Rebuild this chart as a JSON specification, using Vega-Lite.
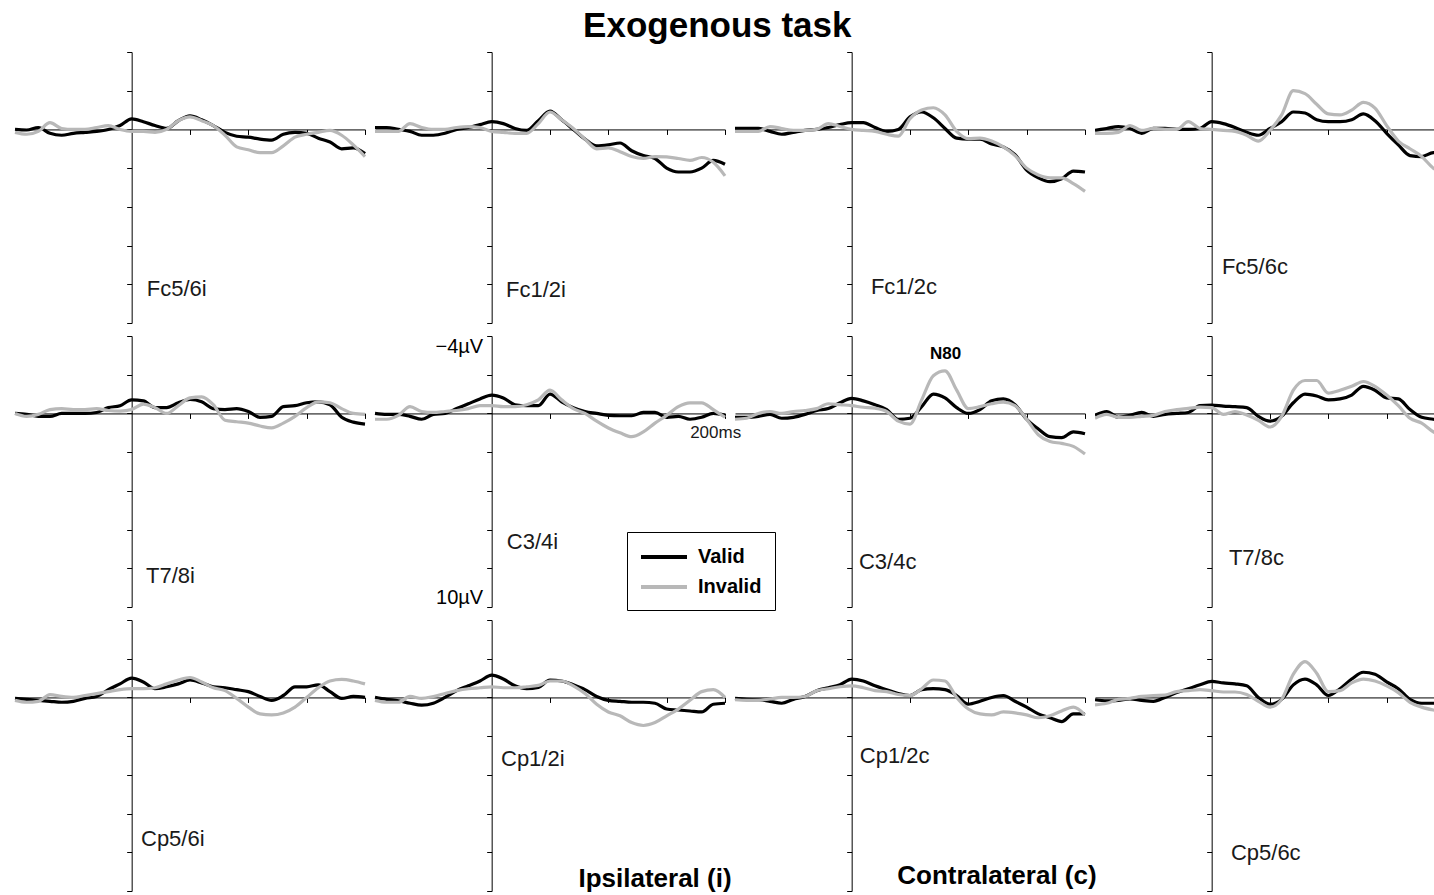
{
"$schema":"https://vega.github.io/schema/vega-lite/v6.json",
"padding":{"left":8,"right":0,"top":8,"bottom":0},
"bounds":"flush",
"spacing":{"row":13,"column":10},
"columns":4,
"title":{"text":"Exogenous task","fontSize":35,"fontWeight":"bold","font":"Liberation Sans","anchor":"middle","dx":-4,"offset":8,"color":"#000"},
"data":{"values":[
{"p":"Fc5/6i","t":-200,"Valid":0,"Invalid":0.15},{"p":"Fc5/6i","t":-180,"Valid":0.03,"Invalid":0.25},{"p":"Fc5/6i","t":-160,"Valid":-0.1,"Invalid":0.1},{"p":"Fc5/6i","t":-140,"Valid":0.2,"Invalid":-0.35},{"p":"Fc5/6i","t":-120,"Valid":0.3,"Invalid":-0.05},{"p":"Fc5/6i","t":-100,"Valid":0.2,"Invalid":0},{"p":"Fc5/6i","t":-80,"Valid":0.15,"Invalid":0},{"p":"Fc5/6i","t":-60,"Valid":0.1,"Invalid":-0.1},{"p":"Fc5/6i","t":-40,"Valid":0,"Invalid":-0.2},{"p":"Fc5/6i","t":-20,"Valid":-0.2,"Invalid":0},{"p":"Fc5/6i","t":0,"Valid":-0.55,"Invalid":0.1},{"p":"Fc5/6i","t":20,"Valid":-0.4,"Invalid":0.1},{"p":"Fc5/6i","t":40,"Valid":-0.2,"Invalid":0.15},{"p":"Fc5/6i","t":60,"Valid":-0.05,"Invalid":0},{"p":"Fc5/6i","t":80,"Valid":-0.45,"Invalid":-0.45},{"p":"Fc5/6i","t":100,"Valid":-0.7,"Invalid":-0.65},{"p":"Fc5/6i","t":120,"Valid":-0.5,"Invalid":-0.45},{"p":"Fc5/6i","t":140,"Valid":-0.2,"Invalid":-0.2},{"p":"Fc5/6i","t":160,"Valid":0.15,"Invalid":0.3},{"p":"Fc5/6i","t":180,"Valid":0.35,"Invalid":0.9},{"p":"Fc5/6i","t":200,"Valid":0.4,"Invalid":1.05},{"p":"Fc5/6i","t":220,"Valid":0.5,"Invalid":1.2},{"p":"Fc5/6i","t":240,"Valid":0.55,"Invalid":1.2},{"p":"Fc5/6i","t":260,"Valid":0.25,"Invalid":0.85},{"p":"Fc5/6i","t":280,"Valid":0.15,"Invalid":0.4},{"p":"Fc5/6i","t":300,"Valid":0.2,"Invalid":0.25},{"p":"Fc5/6i","t":320,"Valid":0.45,"Invalid":0.15},{"p":"Fc5/6i","t":340,"Valid":0.65,"Invalid":0.05},{"p":"Fc5/6i","t":360,"Valid":1.0,"Invalid":0.3},{"p":"Fc5/6i","t":380,"Valid":0.95,"Invalid":0.8},{"p":"Fc5/6i","t":400,"Valid":1.25,"Invalid":1.4},
{"p":"Fc1/2i","t":-200,"Valid":-0.1,"Invalid":0.1},{"p":"Fc1/2i","t":-180,"Valid":-0.1,"Invalid":0.1},{"p":"Fc1/2i","t":-160,"Valid":0,"Invalid":0.1},{"p":"Fc1/2i","t":-140,"Valid":0.1,"Invalid":-0.3},{"p":"Fc1/2i","t":-120,"Valid":0.3,"Invalid":-0.1},{"p":"Fc1/2i","t":-100,"Valid":0.3,"Invalid":0},{"p":"Fc1/2i","t":-80,"Valid":0.2,"Invalid":0},{"p":"Fc1/2i","t":-60,"Valid":0,"Invalid":-0.1},{"p":"Fc1/2i","t":-40,"Valid":-0.1,"Invalid":-0.15},{"p":"Fc1/2i","t":-20,"Valid":-0.25,"Invalid":-0.1},{"p":"Fc1/2i","t":0,"Valid":-0.4,"Invalid":0.1},{"p":"Fc1/2i","t":20,"Valid":-0.3,"Invalid":0.15},{"p":"Fc1/2i","t":40,"Valid":-0.05,"Invalid":0.2},{"p":"Fc1/2i","t":60,"Valid":0.05,"Invalid":0.2},{"p":"Fc1/2i","t":80,"Valid":-0.45,"Invalid":-0.3},{"p":"Fc1/2i","t":100,"Valid":-0.95,"Invalid":-0.9},{"p":"Fc1/2i","t":120,"Valid":-0.5,"Invalid":-0.5},{"p":"Fc1/2i","t":140,"Valid":0,"Invalid":-0.05},{"p":"Fc1/2i","t":160,"Valid":0.5,"Invalid":0.5},{"p":"Fc1/2i","t":180,"Valid":0.85,"Invalid":1.0},{"p":"Fc1/2i","t":200,"Valid":0.8,"Invalid":0.95},{"p":"Fc1/2i","t":220,"Valid":0.7,"Invalid":1.15},{"p":"Fc1/2i","t":240,"Valid":1.1,"Invalid":1.4},{"p":"Fc1/2i","t":260,"Valid":1.35,"Invalid":1.5},{"p":"Fc1/2i","t":280,"Valid":1.5,"Invalid":1.4},{"p":"Fc1/2i","t":300,"Valid":2.0,"Invalid":1.42},{"p":"Fc1/2i","t":320,"Valid":2.2,"Invalid":1.5},{"p":"Fc1/2i","t":340,"Valid":2.2,"Invalid":1.6},{"p":"Fc1/2i","t":360,"Valid":2.0,"Invalid":1.45},{"p":"Fc1/2i","t":380,"Valid":1.6,"Invalid":1.7},{"p":"Fc1/2i","t":400,"Valid":1.8,"Invalid":2.4},
{"p":"Fc1/2c","t":-200,"Valid":-0.05,"Invalid":0.1},{"p":"Fc1/2c","t":-180,"Valid":-0.05,"Invalid":0.1},{"p":"Fc1/2c","t":-160,"Valid":-0.05,"Invalid":0.1},{"p":"Fc1/2c","t":-140,"Valid":0.1,"Invalid":-0.15},{"p":"Fc1/2c","t":-120,"Valid":0.25,"Invalid":-0.05},{"p":"Fc1/2c","t":-100,"Valid":0.15,"Invalid":0.05},{"p":"Fc1/2c","t":-80,"Valid":0.05,"Invalid":0.05},{"p":"Fc1/2c","t":-60,"Valid":0,"Invalid":0},{"p":"Fc1/2c","t":-40,"Valid":-0.1,"Invalid":-0.3},{"p":"Fc1/2c","t":-20,"Valid":-0.25,"Invalid":-0.15},{"p":"Fc1/2c","t":0,"Valid":-0.35,"Invalid":0},{"p":"Fc1/2c","t":20,"Valid":-0.35,"Invalid":0.05},{"p":"Fc1/2c","t":40,"Valid":-0.1,"Invalid":0.1},{"p":"Fc1/2c","t":60,"Valid":0.1,"Invalid":0.25},{"p":"Fc1/2c","t":80,"Valid":0,"Invalid":0.35},{"p":"Fc1/2c","t":100,"Valid":-0.65,"Invalid":-0.55},{"p":"Fc1/2c","t":120,"Valid":-0.9,"Invalid":-1.0},{"p":"Fc1/2c","t":140,"Valid":-0.6,"Invalid":-1.12},{"p":"Fc1/2c","t":160,"Valid":-0.05,"Invalid":-0.75},{"p":"Fc1/2c","t":180,"Valid":0.45,"Invalid":0.1},{"p":"Fc1/2c","t":200,"Valid":0.5,"Invalid":0.48},{"p":"Fc1/2c","t":220,"Valid":0.5,"Invalid":0.45},{"p":"Fc1/2c","t":240,"Valid":0.75,"Invalid":0.6},{"p":"Fc1/2c","t":260,"Valid":0.9,"Invalid":0.9},{"p":"Fc1/2c","t":280,"Valid":1.3,"Invalid":1.35},{"p":"Fc1/2c","t":300,"Valid":2.1,"Invalid":2.0},{"p":"Fc1/2c","t":320,"Valid":2.5,"Invalid":2.35},{"p":"Fc1/2c","t":340,"Valid":2.7,"Invalid":2.5},{"p":"Fc1/2c","t":360,"Valid":2.55,"Invalid":2.5},{"p":"Fc1/2c","t":380,"Valid":2.15,"Invalid":2.8},{"p":"Fc1/2c","t":400,"Valid":2.2,"Invalid":3.2},
{"p":"Fc5/6c","t":-200,"Valid":0.05,"Invalid":0.2},{"p":"Fc5/6c","t":-180,"Valid":-0.05,"Invalid":0.2},{"p":"Fc5/6c","t":-160,"Valid":-0.15,"Invalid":0.15},{"p":"Fc5/6c","t":-140,"Valid":-0.05,"Invalid":-0.2},{"p":"Fc5/6c","t":-120,"Valid":0.2,"Invalid":0.05},{"p":"Fc5/6c","t":-100,"Valid":-0.05,"Invalid":-0.05},{"p":"Fc5/6c","t":-80,"Valid":-0.05,"Invalid":0},{"p":"Fc5/6c","t":-60,"Valid":0,"Invalid":0},{"p":"Fc5/6c","t":-40,"Valid":0,"Invalid":-0.4},{"p":"Fc5/6c","t":-20,"Valid":-0.05,"Invalid":-0.05},{"p":"Fc5/6c","t":0,"Valid":-0.4,"Invalid":0},{"p":"Fc5/6c","t":20,"Valid":-0.3,"Invalid":0.05},{"p":"Fc5/6c","t":40,"Valid":-0.1,"Invalid":0.1},{"p":"Fc5/6c","t":60,"Valid":0.15,"Invalid":0.3},{"p":"Fc5/6c","t":80,"Valid":0.3,"Invalid":0.6},{"p":"Fc5/6c","t":100,"Valid":-0.05,"Invalid":0.05},{"p":"Fc5/6c","t":120,"Valid":-0.4,"Invalid":-0.75},{"p":"Fc5/6c","t":140,"Valid":-0.9,"Invalid":-2.0},{"p":"Fc5/6c","t":160,"Valid":-0.85,"Invalid":-1.85},{"p":"Fc5/6c","t":180,"Valid":-0.5,"Invalid":-1.3},{"p":"Fc5/6c","t":200,"Valid":-0.4,"Invalid":-0.8},{"p":"Fc5/6c","t":220,"Valid":-0.4,"Invalid":-0.75},{"p":"Fc5/6c","t":240,"Valid":-0.5,"Invalid":-1.0},{"p":"Fc5/6c","t":260,"Valid":-0.8,"Invalid":-1.4},{"p":"Fc5/6c","t":280,"Valid":-0.45,"Invalid":-1.1},{"p":"Fc5/6c","t":300,"Valid":0.2,"Invalid":-0.2},{"p":"Fc5/6c","t":320,"Valid":0.8,"Invalid":0.6},{"p":"Fc5/6c","t":340,"Valid":1.35,"Invalid":1.0},{"p":"Fc5/6c","t":360,"Valid":1.4,"Invalid":1.4},{"p":"Fc5/6c","t":380,"Valid":1.2,"Invalid":2.0},{"p":"Fc5/6c","t":400,"Valid":1.3,"Invalid":2.3},
{"p":"T7/8i","t":-200,"Valid":0,"Invalid":0},{"p":"T7/8i","t":-180,"Valid":0.05,"Invalid":0.15},{"p":"T7/8i","t":-160,"Valid":0.15,"Invalid":0.05},{"p":"T7/8i","t":-140,"Valid":0.15,"Invalid":-0.2},{"p":"T7/8i","t":-120,"Valid":0,"Invalid":-0.25},{"p":"T7/8i","t":-100,"Valid":0,"Invalid":-0.2},{"p":"T7/8i","t":-80,"Valid":0,"Invalid":-0.2},{"p":"T7/8i","t":-60,"Valid":-0.05,"Invalid":-0.25},{"p":"T7/8i","t":-40,"Valid":-0.3,"Invalid":-0.15},{"p":"T7/8i","t":-20,"Valid":-0.4,"Invalid":-0.12},{"p":"T7/8i","t":0,"Valid":-0.7,"Invalid":-0.2},{"p":"T7/8i","t":20,"Valid":-0.65,"Invalid":-0.48},{"p":"T7/8i","t":40,"Valid":-0.3,"Invalid":-0.3},{"p":"T7/8i","t":60,"Valid":-0.3,"Invalid":0},{"p":"T7/8i","t":80,"Valid":-0.55,"Invalid":-0.4},{"p":"T7/8i","t":100,"Valid":-0.72,"Invalid":-0.8},{"p":"T7/8i","t":120,"Valid":-0.6,"Invalid":-0.86},{"p":"T7/8i","t":140,"Valid":-0.25,"Invalid":-0.45},{"p":"T7/8i","t":160,"Valid":-0.2,"Invalid":0.35},{"p":"T7/8i","t":180,"Valid":-0.25,"Invalid":0.43},{"p":"T7/8i","t":200,"Valid":-0.1,"Invalid":0.5},{"p":"T7/8i","t":220,"Valid":0.2,"Invalid":0.65},{"p":"T7/8i","t":240,"Valid":0.15,"Invalid":0.75},{"p":"T7/8i","t":260,"Valid":-0.35,"Invalid":0.5},{"p":"T7/8i","t":280,"Valid":-0.4,"Invalid":0.15},{"p":"T7/8i","t":300,"Valid":-0.55,"Invalid":-0.3},{"p":"T7/8i","t":320,"Valid":-0.6,"Invalid":-0.6},{"p":"T7/8i","t":340,"Valid":-0.45,"Invalid":-0.55},{"p":"T7/8i","t":360,"Valid":0.2,"Invalid":-0.25},{"p":"T7/8i","t":380,"Valid":0.45,"Invalid":0},{"p":"T7/8i","t":400,"Valid":0.55,"Invalid":0.05},
{"p":"C3/4i","t":-200,"Valid":0,"Invalid":0.3},{"p":"C3/4i","t":-180,"Valid":0.05,"Invalid":0.3},{"p":"C3/4i","t":-160,"Valid":0.05,"Invalid":0.1},{"p":"C3/4i","t":-140,"Valid":0.15,"Invalid":-0.35},{"p":"C3/4i","t":-120,"Valid":0.3,"Invalid":-0.1},{"p":"C3/4i","t":-100,"Valid":0.05,"Invalid":-0.05},{"p":"C3/4i","t":-80,"Valid":0,"Invalid":-0.1},{"p":"C3/4i","t":-60,"Valid":-0.25,"Invalid":-0.15},{"p":"C3/4i","t":-40,"Valid":-0.5,"Invalid":-0.25},{"p":"C3/4i","t":-20,"Valid":-0.75,"Invalid":-0.4},{"p":"C3/4i","t":0,"Valid":-0.95,"Invalid":-0.4},{"p":"C3/4i","t":20,"Valid":-0.8,"Invalid":-0.35},{"p":"C3/4i","t":40,"Valid":-0.45,"Invalid":-0.35},{"p":"C3/4i","t":60,"Valid":-0.4,"Invalid":-0.45},{"p":"C3/4i","t":80,"Valid":-0.4,"Invalid":-0.7},{"p":"C3/4i","t":100,"Valid":-1.0,"Invalid":-1.2},{"p":"C3/4i","t":120,"Valid":-0.6,"Invalid":-0.7},{"p":"C3/4i","t":140,"Valid":-0.3,"Invalid":-0.25},{"p":"C3/4i","t":160,"Valid":-0.1,"Invalid":0},{"p":"C3/4i","t":180,"Valid":0,"Invalid":0.4},{"p":"C3/4i","t":200,"Valid":0.1,"Invalid":0.75},{"p":"C3/4i","t":220,"Valid":0.12,"Invalid":1.0},{"p":"C3/4i","t":240,"Valid":0.12,"Invalid":1.2},{"p":"C3/4i","t":260,"Valid":-0.05,"Invalid":0.95},{"p":"C3/4i","t":280,"Valid":-0.05,"Invalid":0.5},{"p":"C3/4i","t":300,"Valid":0.2,"Invalid":0.1},{"p":"C3/4i","t":320,"Valid":0.15,"Invalid":-0.35},{"p":"C3/4i","t":340,"Valid":0.3,"Invalid":-0.55},{"p":"C3/4i","t":360,"Valid":0.2,"Invalid":-0.55},{"p":"C3/4i","t":380,"Valid":0,"Invalid":-0.2},{"p":"C3/4i","t":400,"Valid":0.1,"Invalid":0.2},
{"p":"C3/4c","t":-200,"Valid":0.2,"Invalid":0.3},{"p":"C3/4c","t":-180,"Valid":0.2,"Invalid":0.25},{"p":"C3/4c","t":-160,"Valid":0.15,"Invalid":0},{"p":"C3/4c","t":-140,"Valid":0.05,"Invalid":-0.1},{"p":"C3/4c","t":-120,"Valid":0.25,"Invalid":0},{"p":"C3/4c","t":-100,"Valid":0.2,"Invalid":-0.1},{"p":"C3/4c","t":-80,"Valid":0.05,"Invalid":-0.15},{"p":"C3/4c","t":-60,"Valid":-0.15,"Invalid":-0.25},{"p":"C3/4c","t":-40,"Valid":-0.25,"Invalid":-0.5},{"p":"C3/4c","t":-20,"Valid":-0.55,"Invalid":-0.45},{"p":"C3/4c","t":0,"Valid":-0.78,"Invalid":-0.4},{"p":"C3/4c","t":20,"Valid":-0.65,"Invalid":-0.32},{"p":"C3/4c","t":40,"Valid":-0.45,"Invalid":-0.27},{"p":"C3/4c","t":60,"Valid":-0.2,"Invalid":-0.1},{"p":"C3/4c","t":80,"Valid":0.3,"Invalid":0.4},{"p":"C3/4c","t":100,"Valid":0.25,"Invalid":0.55},{"p":"C3/4c","t":120,"Valid":-0.35,"Invalid":-0.7},{"p":"C3/4c","t":140,"Valid":-1.0,"Invalid":-1.95},{"p":"C3/4c","t":160,"Valid":-0.8,"Invalid":-2.2},{"p":"C3/4c","t":180,"Valid":-0.3,"Invalid":-1.2},{"p":"C3/4c","t":200,"Valid":0,"Invalid":-0.25},{"p":"C3/4c","t":220,"Valid":-0.2,"Invalid":-0.35},{"p":"C3/4c","t":240,"Valid":-0.65,"Invalid":-0.5},{"p":"C3/4c","t":260,"Valid":-0.75,"Invalid":-0.58},{"p":"C3/4c","t":280,"Valid":-0.45,"Invalid":-0.4},{"p":"C3/4c","t":300,"Valid":0.3,"Invalid":0.3},{"p":"C3/4c","t":320,"Valid":0.8,"Invalid":1.1},{"p":"C3/4c","t":340,"Valid":1.2,"Invalid":1.45},{"p":"C3/4c","t":360,"Valid":1.25,"Invalid":1.55},{"p":"C3/4c","t":380,"Valid":0.95,"Invalid":1.7},{"p":"C3/4c","t":400,"Valid":1.05,"Invalid":2.1},
{"p":"T7/8c","t":-200,"Valid":0.1,"Invalid":0.25},{"p":"T7/8c","t":-180,"Valid":-0.1,"Invalid":0.05},{"p":"T7/8c","t":-160,"Valid":0.2,"Invalid":0.2},{"p":"T7/8c","t":-140,"Valid":0.1,"Invalid":0.2},{"p":"T7/8c","t":-120,"Valid":-0.05,"Invalid":0.15},{"p":"T7/8c","t":-100,"Valid":0.15,"Invalid":0.1},{"p":"T7/8c","t":-80,"Valid":0.05,"Invalid":-0.1},{"p":"T7/8c","t":-60,"Valid":0,"Invalid":-0.2},{"p":"T7/8c","t":-40,"Valid":-0.05,"Invalid":-0.26},{"p":"T7/8c","t":-20,"Valid":-0.4,"Invalid":-0.33},{"p":"T7/8c","t":0,"Valid":-0.43,"Invalid":-0.3},{"p":"T7/8c","t":20,"Valid":-0.38,"Invalid":0.05},{"p":"T7/8c","t":40,"Valid":-0.35,"Invalid":-0.1},{"p":"T7/8c","t":60,"Valid":-0.3,"Invalid":0.08},{"p":"T7/8c","t":80,"Valid":0.15,"Invalid":0.35},{"p":"T7/8c","t":100,"Valid":0.4,"Invalid":0.7},{"p":"T7/8c","t":120,"Valid":0.15,"Invalid":0.15},{"p":"T7/8c","t":140,"Valid":-0.55,"Invalid":-1.2},{"p":"T7/8c","t":160,"Valid":-1.0,"Invalid":-1.7},{"p":"T7/8c","t":180,"Valid":-0.9,"Invalid":-1.7},{"p":"T7/8c","t":200,"Valid":-0.7,"Invalid":-1.05},{"p":"T7/8c","t":220,"Valid":-0.75,"Invalid":-1.2},{"p":"T7/8c","t":240,"Valid":-0.95,"Invalid":-1.4},{"p":"T7/8c","t":260,"Valid":-1.4,"Invalid":-1.65},{"p":"T7/8c","t":280,"Valid":-1.2,"Invalid":-1.4},{"p":"T7/8c","t":300,"Valid":-0.8,"Invalid":-0.95},{"p":"T7/8c","t":320,"Valid":-0.75,"Invalid":-0.4},{"p":"T7/8c","t":340,"Valid":-0.2,"Invalid":0.25},{"p":"T7/8c","t":360,"Valid":0.2,"Invalid":0.5},{"p":"T7/8c","t":380,"Valid":0.3,"Invalid":0.95},{"p":"T7/8c","t":400,"Valid":0.4,"Invalid":1.2},
{"p":"Cp5/6i","t":-200,"Valid":0.05,"Invalid":0.15},{"p":"Cp5/6i","t":-180,"Valid":0.1,"Invalid":0.25},{"p":"Cp5/6i","t":-160,"Valid":0.15,"Invalid":0.2},{"p":"Cp5/6i","t":-140,"Valid":0.2,"Invalid":-0.15},{"p":"Cp5/6i","t":-120,"Valid":0.25,"Invalid":-0.05},{"p":"Cp5/6i","t":-100,"Valid":0.2,"Invalid":0},{"p":"Cp5/6i","t":-80,"Valid":0.05,"Invalid":-0.1},{"p":"Cp5/6i","t":-60,"Valid":-0.05,"Invalid":-0.2},{"p":"Cp5/6i","t":-40,"Valid":-0.4,"Invalid":-0.3},{"p":"Cp5/6i","t":-20,"Valid":-0.7,"Invalid":-0.4},{"p":"Cp5/6i","t":0,"Valid":-1.0,"Invalid":-0.45},{"p":"Cp5/6i","t":20,"Valid":-0.8,"Invalid":-0.45},{"p":"Cp5/6i","t":40,"Valid":-0.45,"Invalid":-0.5},{"p":"Cp5/6i","t":60,"Valid":-0.55,"Invalid":-0.7},{"p":"Cp5/6i","t":80,"Valid":-0.7,"Invalid":-0.9},{"p":"Cp5/6i","t":100,"Valid":-0.9,"Invalid":-1.03},{"p":"Cp5/6i","t":120,"Valid":-0.75,"Invalid":-0.8},{"p":"Cp5/6i","t":140,"Valid":-0.55,"Invalid":-0.5},{"p":"Cp5/6i","t":160,"Valid":-0.5,"Invalid":-0.35},{"p":"Cp5/6i","t":180,"Valid":-0.4,"Invalid":0.05},{"p":"Cp5/6i","t":200,"Valid":-0.3,"Invalid":0.5},{"p":"Cp5/6i","t":220,"Valid":-0.05,"Invalid":0.85},{"p":"Cp5/6i","t":240,"Valid":0.15,"Invalid":0.9},{"p":"Cp5/6i","t":260,"Valid":-0.1,"Invalid":0.8},{"p":"Cp5/6i","t":280,"Valid":-0.55,"Invalid":0.5},{"p":"Cp5/6i","t":300,"Valid":-0.55,"Invalid":0},{"p":"Cp5/6i","t":320,"Valid":-0.65,"Invalid":-0.5},{"p":"Cp5/6i","t":340,"Valid":-0.3,"Invalid":-0.85},{"p":"Cp5/6i","t":360,"Valid":0.05,"Invalid":-0.93},{"p":"Cp5/6i","t":380,"Valid":-0.05,"Invalid":-0.85},{"p":"Cp5/6i","t":400,"Valid":0,"Invalid":-0.7},
{"p":"Cp1/2i","t":-200,"Valid":0,"Invalid":0.15},{"p":"Cp1/2i","t":-180,"Valid":0.1,"Invalid":0.25},{"p":"Cp1/2i","t":-160,"Valid":0.17,"Invalid":0.25},{"p":"Cp1/2i","t":-140,"Valid":0.3,"Invalid":-0.05},{"p":"Cp1/2i","t":-120,"Valid":0.4,"Invalid":0.05},{"p":"Cp1/2i","t":-100,"Valid":0.3,"Invalid":-0.05},{"p":"Cp1/2i","t":-80,"Valid":0,"Invalid":-0.2},{"p":"Cp1/2i","t":-60,"Valid":-0.35,"Invalid":-0.35},{"p":"Cp1/2i","t":-40,"Valid":-0.6,"Invalid":-0.45},{"p":"Cp1/2i","t":-20,"Valid":-0.85,"Invalid":-0.5},{"p":"Cp1/2i","t":0,"Valid":-1.15,"Invalid":-0.55},{"p":"Cp1/2i","t":20,"Valid":-0.95,"Invalid":-0.5},{"p":"Cp1/2i","t":40,"Valid":-0.6,"Invalid":-0.5},{"p":"Cp1/2i","t":60,"Valid":-0.45,"Invalid":-0.55},{"p":"Cp1/2i","t":80,"Valid":-0.52,"Invalid":-0.62},{"p":"Cp1/2i","t":100,"Valid":-0.9,"Invalid":-0.85},{"p":"Cp1/2i","t":120,"Valid":-0.85,"Invalid":-0.85},{"p":"Cp1/2i","t":140,"Valid":-0.65,"Invalid":-0.6},{"p":"Cp1/2i","t":160,"Valid":-0.4,"Invalid":-0.2},{"p":"Cp1/2i","t":180,"Valid":-0.05,"Invalid":0.35},{"p":"Cp1/2i","t":200,"Valid":0.15,"Invalid":0.75},{"p":"Cp1/2i","t":220,"Valid":0.2,"Invalid":0.95},{"p":"Cp1/2i","t":240,"Valid":0.25,"Invalid":1.3},{"p":"Cp1/2i","t":260,"Valid":0.25,"Invalid":1.45},{"p":"Cp1/2i","t":280,"Valid":0.3,"Invalid":1.3},{"p":"Cp1/2i","t":300,"Valid":0.6,"Invalid":0.95},{"p":"Cp1/2i","t":320,"Valid":0.65,"Invalid":0.6},{"p":"Cp1/2i","t":340,"Valid":0.7,"Invalid":0.15},{"p":"Cp1/2i","t":360,"Valid":0.75,"Invalid":-0.3},{"p":"Cp1/2i","t":380,"Valid":0.35,"Invalid":-0.4},{"p":"Cp1/2i","t":400,"Valid":0.3,"Invalid":0},
{"p":"Cp1/2c","t":-200,"Valid":0.05,"Invalid":0.12},{"p":"Cp1/2c","t":-180,"Valid":0.1,"Invalid":0.15},{"p":"Cp1/2c","t":-160,"Valid":0.12,"Invalid":0.15},{"p":"Cp1/2c","t":-140,"Valid":0.2,"Invalid":0.08},{"p":"Cp1/2c","t":-120,"Valid":0.3,"Invalid":0},{"p":"Cp1/2c","t":-100,"Valid":0.1,"Invalid":0},{"p":"Cp1/2c","t":-80,"Valid":-0.05,"Invalid":-0.05},{"p":"Cp1/2c","t":-60,"Valid":-0.35,"Invalid":-0.35},{"p":"Cp1/2c","t":-40,"Valid":-0.5,"Invalid":-0.45},{"p":"Cp1/2c","t":-20,"Valid":-0.65,"Invalid":-0.55},{"p":"Cp1/2c","t":0,"Valid":-0.95,"Invalid":-0.6},{"p":"Cp1/2c","t":20,"Valid":-0.85,"Invalid":-0.5},{"p":"Cp1/2c","t":40,"Valid":-0.6,"Invalid":-0.35},{"p":"Cp1/2c","t":60,"Valid":-0.4,"Invalid":-0.3},{"p":"Cp1/2c","t":80,"Valid":-0.2,"Invalid":-0.15},{"p":"Cp1/2c","t":100,"Valid":-0.1,"Invalid":-0.1},{"p":"Cp1/2c","t":120,"Valid":-0.4,"Invalid":-0.45},{"p":"Cp1/2c","t":140,"Valid":-0.45,"Invalid":-0.9},{"p":"Cp1/2c","t":160,"Valid":-0.4,"Invalid":-0.85},{"p":"Cp1/2c","t":180,"Valid":-0.1,"Invalid":0},{"p":"Cp1/2c","t":200,"Valid":0.35,"Invalid":0.6},{"p":"Cp1/2c","t":220,"Valid":0.2,"Invalid":0.85},{"p":"Cp1/2c","t":240,"Valid":0,"Invalid":0.9},{"p":"Cp1/2c","t":260,"Valid":-0.1,"Invalid":0.75},{"p":"Cp1/2c","t":280,"Valid":0.2,"Invalid":0.8},{"p":"Cp1/2c","t":300,"Valid":0.5,"Invalid":0.9},{"p":"Cp1/2c","t":320,"Valid":0.85,"Invalid":1.05},{"p":"Cp1/2c","t":340,"Valid":1.05,"Invalid":0.95},{"p":"Cp1/2c","t":360,"Valid":1.25,"Invalid":0.7},{"p":"Cp1/2c","t":380,"Valid":0.85,"Invalid":0.5},{"p":"Cp1/2c","t":400,"Valid":0.85,"Invalid":0.9},
{"p":"Cp5/6c","t":-200,"Valid":0.12,"Invalid":0.38},{"p":"Cp5/6c","t":-180,"Valid":0.18,"Invalid":0.3},{"p":"Cp5/6c","t":-160,"Valid":0.15,"Invalid":0.1},{"p":"Cp5/6c","t":-140,"Valid":0.07,"Invalid":0.05},{"p":"Cp5/6c","t":-120,"Valid":0.15,"Invalid":-0.05},{"p":"Cp5/6c","t":-100,"Valid":0.2,"Invalid":-0.1},{"p":"Cp5/6c","t":-80,"Valid":0,"Invalid":-0.12},{"p":"Cp5/6c","t":-60,"Valid":-0.25,"Invalid":-0.3},{"p":"Cp5/6c","t":-40,"Valid":-0.45,"Invalid":-0.35},{"p":"Cp5/6c","t":-20,"Valid":-0.65,"Invalid":-0.4},{"p":"Cp5/6c","t":0,"Valid":-0.83,"Invalid":-0.35},{"p":"Cp5/6c","t":20,"Valid":-0.75,"Invalid":-0.28},{"p":"Cp5/6c","t":40,"Valid":-0.7,"Invalid":-0.28},{"p":"Cp5/6c","t":60,"Valid":-0.6,"Invalid":-0.15},{"p":"Cp5/6c","t":80,"Valid":0,"Invalid":0.2},{"p":"Cp5/6c","t":100,"Valid":0.35,"Invalid":0.5},{"p":"Cp5/6c","t":120,"Valid":0.1,"Invalid":0.1},{"p":"Cp5/6c","t":140,"Valid":-0.65,"Invalid":-1.2},{"p":"Cp5/6c","t":160,"Valid":-0.95,"Invalid":-1.85},{"p":"Cp5/6c","t":180,"Valid":-0.65,"Invalid":-1.25},{"p":"Cp5/6c","t":200,"Valid":-0.1,"Invalid":-0.3},{"p":"Cp5/6c","t":220,"Valid":-0.45,"Invalid":-0.35},{"p":"Cp5/6c","t":240,"Valid":-0.95,"Invalid":-0.75},{"p":"Cp5/6c","t":260,"Valid":-1.3,"Invalid":-0.95},{"p":"Cp5/6c","t":280,"Valid":-1.2,"Invalid":-0.85},{"p":"Cp5/6c","t":300,"Valid":-0.8,"Invalid":-0.6},{"p":"Cp5/6c","t":320,"Valid":-0.45,"Invalid":-0.25},{"p":"Cp5/6c","t":340,"Valid":0.1,"Invalid":0.25},{"p":"Cp5/6c","t":360,"Valid":0.3,"Invalid":0.5},{"p":"Cp5/6c","t":380,"Valid":0.3,"Invalid":0.65},{"p":"Cp5/6c","t":400,"Valid":0.3,"Invalid":0.75}
]},
"concat":[
{"width":350,"height":271,"layer":[
 {"transform":[{"filter":"datum.p == 'Fc5/6i'"},{"fold":["Valid","Invalid"],"as":["cond","v"]}],
  "mark":{"type":"line","strokeWidth":3.2,"interpolate":"monotone"},
  "encoding":{
   "x":{"field":"t","type":"quantitative","scale":{"domain":[-200,400],"nice":false,"zero":false},"axis":{"values":[100,200,300,400],"offset":-193.57}},
   "y":{"field":"v","type":"quantitative","scale":{"domain":[-4,10],"reverse":true,"nice":false,"zero":false},"axis":{"values":[-4,-2,0,2,4,6,8,10],"tickCount":20,"offset":-116.67}},
   "color":{"field":"cond","type":"nominal","scale":{"domain":["Valid","Invalid"],"range":["#000000","#b8b8b8"]},
     "legend":{"orient":"none","legendX":612,"legendY":480,"title":null,"direction":"vertical","symbolType":"M-1.1,0H3.5","symbolSize":400,"symbolStrokeWidth":4,"symbolFillColor":"transparent","labelFont":"Liberation Sans","labelFontSize":20,"labelFontWeight":"bold","labelColor":"#000","strokeColor":"#000","fillColor":"#fff","padding":13,"rowPadding":8,"labelOffset":34}}}},
 {"data":{"values":[{}]},"mark":{"type":"text","align":"left","baseline":"middle","fontSize":22,"color":"#1a1a1a"},"encoding":{"x":{"datum":26},"y":{"datum":8.26},"text":{"value":"Fc5/6i"}}}
]},
{"width":350,"height":271,"layer":[
 {"transform":[{"filter":"datum.p == 'Fc1/2i'"},{"fold":["Valid","Invalid"],"as":["cond","v"]}],
  "mark":{"type":"line","strokeWidth":3.2,"interpolate":"monotone"},
  "encoding":{
   "x":{"field":"t","type":"quantitative","scale":{"domain":[-200,400],"nice":false,"zero":false},"axis":{"values":[100,200,300,400],"offset":-193.57}},
   "y":{"field":"v","type":"quantitative","scale":{"domain":[-4,10],"reverse":true,"nice":false,"zero":false},"axis":{"values":[-4,-2,0,2,4,6,8,10],"tickCount":20,"offset":-116.67}},
   "color":{"field":"cond","type":"nominal","scale":{"domain":["Valid","Invalid"],"range":["#000000","#b8b8b8"]}}}},
 {"data":{"values":[{}]},"mark":{"type":"text","align":"left","baseline":"middle","fontSize":22,"color":"#1a1a1a"},"encoding":{"x":{"datum":24.5},"y":{"datum":8.3},"text":{"value":"Fc1/2i"}}}
]},
{"width":350,"height":271,"layer":[
 {"transform":[{"filter":"datum.p == 'Fc1/2c'"},{"fold":["Valid","Invalid"],"as":["cond","v"]}],
  "mark":{"type":"line","strokeWidth":3.2,"interpolate":"monotone"},
  "encoding":{
   "x":{"field":"t","type":"quantitative","scale":{"domain":[-200,400],"nice":false,"zero":false},"axis":{"values":[100,200,300,400],"offset":-193.57}},
   "y":{"field":"v","type":"quantitative","scale":{"domain":[-4,10],"reverse":true,"nice":false,"zero":false},"axis":{"values":[-4,-2,0,2,4,6,8,10],"tickCount":20,"offset":-116.67}},
   "color":{"field":"cond","type":"nominal","scale":{"domain":["Valid","Invalid"],"range":["#000000","#b8b8b8"]}}}},
 {"data":{"values":[{}]},"mark":{"type":"text","align":"left","baseline":"middle","fontSize":22,"color":"#1a1a1a"},"encoding":{"x":{"datum":33},"y":{"datum":8.15},"text":{"value":"Fc1/2c"}}}
]},
{"width":339,"height":271,"layer":[
 {"transform":[{"filter":"datum.p == 'Fc5/6c'"},{"fold":["Valid","Invalid"],"as":["cond","v"]}],
  "mark":{"type":"line","strokeWidth":3.2,"interpolate":"monotone","clip":true},
  "encoding":{
   "x":{"field":"t","type":"quantitative","scale":{"domain":[-200,381.14],"nice":false,"zero":false},"axis":{"values":[100,200,300],"offset":-193.57}},
   "y":{"field":"v","type":"quantitative","scale":{"domain":[-4,10],"reverse":true,"nice":false,"zero":false},"axis":{"values":[-4,-2,0,2,4,6,8,10],"tickCount":20,"offset":-116.67}},
   "color":{"field":"cond","type":"nominal","scale":{"domain":["Valid","Invalid"],"range":["#000000","#b8b8b8"]}}}},
 {"data":{"values":[{}]},"mark":{"type":"text","align":"left","baseline":"middle","fontSize":22,"color":"#1a1a1a"},"encoding":{"x":{"datum":17.6},"y":{"datum":7.1},"text":{"value":"Fc5/6c"}}}
]},
{"width":350,"height":271,"layer":[
 {"transform":[{"filter":"datum.p == 'T7/8i'"},{"fold":["Valid","Invalid"],"as":["cond","v"]}],
  "mark":{"type":"line","strokeWidth":3.2,"interpolate":"monotone"},
  "encoding":{
   "x":{"field":"t","type":"quantitative","scale":{"domain":[-200,400],"nice":false,"zero":false},"axis":{"values":[100,200,300,400],"offset":-193.57}},
   "y":{"field":"v","type":"quantitative","scale":{"domain":[-4,10],"reverse":true,"nice":false,"zero":false},"axis":{"values":[-4,-2,0,2,4,6,8,10],"tickCount":20,"offset":-116.67}},
   "color":{"field":"cond","type":"nominal","scale":{"domain":["Valid","Invalid"],"range":["#000000","#b8b8b8"]}}}},
 {"data":{"values":[{}]},"mark":{"type":"text","align":"left","baseline":"middle","fontSize":22,"color":"#1a1a1a"},"encoding":{"x":{"datum":24.5},"y":{"datum":8.4},"text":{"value":"T7/8i"}}}
]},
{"width":350,"height":271,"layer":[
 {"transform":[{"filter":"datum.p == 'C3/4i'"},{"fold":["Valid","Invalid"],"as":["cond","v"]}],
  "mark":{"type":"line","strokeWidth":3.2,"interpolate":"monotone"},
  "encoding":{
   "x":{"field":"t","type":"quantitative","scale":{"domain":[-200,400],"nice":false,"zero":false},"axis":{"values":[100,200,300,400],"offset":-193.57}},
   "y":{"field":"v","type":"quantitative","scale":{"domain":[-4,10],"reverse":true,"nice":false,"zero":false},"axis":{"values":[-4,-2,0,2,4,6,8,10],"tickCount":20,"offset":-116.67,"labels":true,"labelExpr":"datum.value == -4 ? '\u22124\u00b5V' : (datum.value == 10 ? '10\u00b5V' : '')","labelFontSize":20,"labelFlush":true,"labelOverlap":false,"labelPadding":4,"labelColor":"#000"}},
   "color":{"field":"cond","type":"nominal","scale":{"domain":["Valid","Invalid"],"range":["#000000","#b8b8b8"]}}}},
 {"data":{"values":[{}]},"mark":{"type":"text","align":"left","baseline":"middle","fontSize":22,"color":"#1a1a1a"},"encoding":{"x":{"datum":26},"y":{"datum":6.65},"text":{"value":"C3/4i"}}},
 {"data":{"values":[{}]},"mark":{"type":"text","align":"center","baseline":"middle","fontSize":17,"color":"#1a1a1a"},"encoding":{"x":{"datum":384},"y":{"datum":1.0},"text":{"value":"200ms"}}}
]},
{"width":350,"height":271,"layer":[
 {"transform":[{"filter":"datum.p == 'C3/4c'"},{"fold":["Valid","Invalid"],"as":["cond","v"]}],
  "mark":{"type":"line","strokeWidth":3.2,"interpolate":"monotone"},
  "encoding":{
   "x":{"field":"t","type":"quantitative","scale":{"domain":[-200,400],"nice":false,"zero":false},"axis":{"values":[100,200,300,400],"offset":-193.57}},
   "y":{"field":"v","type":"quantitative","scale":{"domain":[-4,10],"reverse":true,"nice":false,"zero":false},"axis":{"values":[-4,-2,0,2,4,6,8,10],"tickCount":20,"offset":-116.67}},
   "color":{"field":"cond","type":"nominal","scale":{"domain":["Valid","Invalid"],"range":["#000000","#b8b8b8"]}}}},
 {"data":{"values":[{}]},"mark":{"type":"text","align":"left","baseline":"middle","fontSize":22,"color":"#1a1a1a"},"encoding":{"x":{"datum":12.5},"y":{"datum":7.65},"text":{"value":"C3/4c"}}},
 {"data":{"values":[{}]},"mark":{"type":"text","align":"center","baseline":"middle","fontSize":17,"fontWeight":"bold","color":"#000"},"encoding":{"x":{"datum":161},"y":{"datum":-3.05},"text":{"value":"N80"}}}
]},
{"width":339,"height":271,"layer":[
 {"transform":[{"filter":"datum.p == 'T7/8c'"},{"fold":["Valid","Invalid"],"as":["cond","v"]}],
  "mark":{"type":"line","strokeWidth":3.2,"interpolate":"monotone","clip":true},
  "encoding":{
   "x":{"field":"t","type":"quantitative","scale":{"domain":[-200,381.14],"nice":false,"zero":false},"axis":{"values":[100,200,300],"offset":-193.57}},
   "y":{"field":"v","type":"quantitative","scale":{"domain":[-4,10],"reverse":true,"nice":false,"zero":false},"axis":{"values":[-4,-2,0,2,4,6,8,10],"tickCount":20,"offset":-116.67}},
   "color":{"field":"cond","type":"nominal","scale":{"domain":["Valid","Invalid"],"range":["#000000","#b8b8b8"]}}}},
 {"data":{"values":[{}]},"mark":{"type":"text","align":"left","baseline":"middle","fontSize":22,"color":"#1a1a1a"},"encoding":{"x":{"datum":29.6},"y":{"datum":7.45},"text":{"value":"T7/8c"}}}
]},
{"width":350,"height":271,"layer":[
 {"transform":[{"filter":"datum.p == 'Cp5/6i'"},{"fold":["Valid","Invalid"],"as":["cond","v"]}],
  "mark":{"type":"line","strokeWidth":3.2,"interpolate":"monotone"},
  "encoding":{
   "x":{"field":"t","type":"quantitative","scale":{"domain":[-200,400],"nice":false,"zero":false},"axis":{"values":[100,200,300,400],"offset":-193.57}},
   "y":{"field":"v","type":"quantitative","scale":{"domain":[-4,10],"reverse":true,"nice":false,"zero":false},"axis":{"values":[-4,-2,0,2,4,6,8,10],"tickCount":20,"offset":-116.67}},
   "color":{"field":"cond","type":"nominal","scale":{"domain":["Valid","Invalid"],"range":["#000000","#b8b8b8"]}}}},
 {"data":{"values":[{}]},"mark":{"type":"text","align":"left","baseline":"middle","fontSize":22,"color":"#1a1a1a"},"encoding":{"x":{"datum":16},"y":{"datum":7.3},"text":{"value":"Cp5/6i"}}}
]},
{"width":350,"height":271,"layer":[
 {"transform":[{"filter":"datum.p == 'Cp1/2i'"},{"fold":["Valid","Invalid"],"as":["cond","v"]}],
  "mark":{"type":"line","strokeWidth":3.2,"interpolate":"monotone"},
  "encoding":{
   "x":{"field":"t","type":"quantitative","scale":{"domain":[-200,400],"nice":false,"zero":false},"axis":{"values":[100,200,300,400],"offset":-193.57}},
   "y":{"field":"v","type":"quantitative","scale":{"domain":[-4,10],"reverse":true,"nice":false,"zero":false},"axis":{"values":[-4,-2,0,2,4,6,8,10],"tickCount":20,"offset":-116.67}},
   "color":{"field":"cond","type":"nominal","scale":{"domain":["Valid","Invalid"],"range":["#000000","#b8b8b8"]}}}},
 {"data":{"values":[{}]},"mark":{"type":"text","align":"left","baseline":"middle","fontSize":22,"color":"#1a1a1a"},"encoding":{"x":{"datum":16},"y":{"datum":3.2},"text":{"value":"Cp1/2i"}}},
 {"data":{"values":[{}]},"mark":{"type":"text","align":"center","baseline":"middle","fontSize":26,"fontWeight":"bold","color":"#000"},"encoding":{"x":{"datum":280},"y":{"datum":9.4},"text":{"value":"Ipsilateral (i)"}}}
]},
{"width":350,"height":271,"layer":[
 {"transform":[{"filter":"datum.p == 'Cp1/2c'"},{"fold":["Valid","Invalid"],"as":["cond","v"]}],
  "mark":{"type":"line","strokeWidth":3.2,"interpolate":"monotone"},
  "encoding":{
   "x":{"field":"t","type":"quantitative","scale":{"domain":[-200,400],"nice":false,"zero":false},"axis":{"values":[100,200,300,400],"offset":-193.57}},
   "y":{"field":"v","type":"quantitative","scale":{"domain":[-4,10],"reverse":true,"nice":false,"zero":false},"axis":{"values":[-4,-2,0,2,4,6,8,10],"tickCount":20,"offset":-116.67}},
   "color":{"field":"cond","type":"nominal","scale":{"domain":["Valid","Invalid"],"range":["#000000","#b8b8b8"]}}}},
 {"data":{"values":[{}]},"mark":{"type":"text","align":"left","baseline":"middle","fontSize":22,"color":"#1a1a1a"},"encoding":{"x":{"datum":14},"y":{"datum":3.05},"text":{"value":"Cp1/2c"}}},
 {"data":{"values":[{}]},"mark":{"type":"text","align":"center","baseline":"middle","fontSize":26,"fontWeight":"bold","color":"#000"},"encoding":{"x":{"datum":249},"y":{"datum":9.2},"text":{"value":"Contralateral (c)"}}}
]},
{"width":339,"height":271,"layer":[
 {"transform":[{"filter":"datum.p == 'Cp5/6c'"},{"fold":["Valid","Invalid"],"as":["cond","v"]}],
  "mark":{"type":"line","strokeWidth":3.2,"interpolate":"monotone","clip":true},
  "encoding":{
   "x":{"field":"t","type":"quantitative","scale":{"domain":[-200,381.14],"nice":false,"zero":false},"axis":{"values":[100,200,300],"offset":-193.57}},
   "y":{"field":"v","type":"quantitative","scale":{"domain":[-4,10],"reverse":true,"nice":false,"zero":false},"axis":{"values":[-4,-2,0,2,4,6,8,10],"tickCount":20,"offset":-116.67}},
   "color":{"field":"cond","type":"nominal","scale":{"domain":["Valid","Invalid"],"range":["#000000","#b8b8b8"]}}}},
 {"data":{"values":[{}]},"mark":{"type":"text","align":"left","baseline":"middle","fontSize":22,"color":"#1a1a1a"},"encoding":{"x":{"datum":33},"y":{"datum":8.06},"text":{"value":"Cp5/6c"}}}
]}
],
"config":{
 "view":{"stroke":null},
 "font":"Liberation Sans",
 "axis":{"title":null,"grid":false,"labels":false,"domainColor":"#000","tickColor":"#000","tickSize":5,"domainWidth":1,"tickWidth":1}
}
}
